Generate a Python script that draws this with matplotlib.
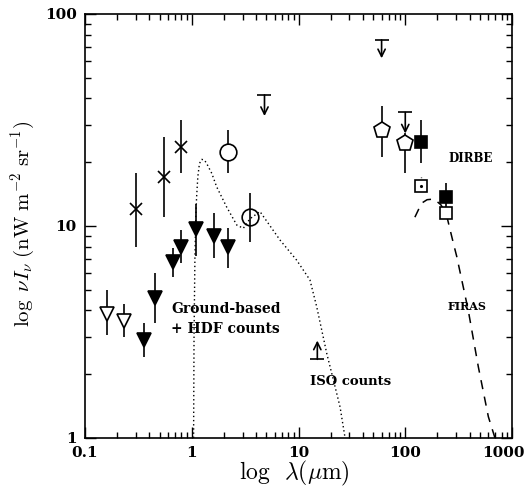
import matplotlib
matplotlib.use('Agg')
import matplotlib.pyplot as plt
import matplotlib.transforms as mtransforms
from matplotlib.ticker import FixedLocator, FixedFormatter, LogLocator, NullFormatter

plt.rcParams['mathtext.fontset'] = 'cm'

# ---------------- data ----------------
cross_x = [0.30, 0.55, 0.80]
cross_y = [12.0, 17.1, 23.6]
cross_lo = [7.98, 11.0, 17.8]
cross_hi = [17.8, 26.4, 31.6]

circ_x = [2.2, 3.5]
circ_y = [22.4, 11.0]
circ_lo = [17.7, 8.4]
circ_hi = [28.4, 14.3]

trif_x = [0.36, 0.45, 0.66, 0.80, 1.10, 1.60, 2.20]
trif_y = [2.90, 4.56, 6.79, 7.99, 9.65, 8.97, 7.93]
trif_lo = [2.42, 3.47, 5.77, 6.67, 7.22, 7.04, 6.31]
trif_hi = [3.50, 5.98, 7.85, 9.57, 12.7, 11.5, 9.75]

trio_x = [0.16, 0.23]
trio_y = [3.83, 3.56]
trio_lo = [3.06, 3.00]
trio_hi = [4.99, 4.27]

pent_x = [60, 100]
pent_y = [28.4, 24.5]
pent_lo = [21.2, 17.7]
pent_hi = [36.8, 27.3]

dirbe_f_x = [140, 240]
dirbe_f_y = [25.0, 13.7]
dirbe_f_lo = [19.8, 11.9]
dirbe_f_hi = [31.6, 15.9]
dirbe_f_dot_lo = [17.0, 11.9]

dirbe_o_x = [140, 240]
dirbe_o_y = [15.4, 11.5]

upper_x = [4.8, 60, 100]
upper_bar = [41.5, 75.4, 34.3]
upper_tip = [33.0, 61.8, 27.3]

lower_x = [15]
lower_bar = [2.35]
lower_tip = [2.88]

model_x = [1.04, 1.05, 1.07, 1.09, 1.11, 1.14, 1.18, 1.24, 1.31, 1.38, 1.54, 1.71,
           2.12, 2.64, 3.04, 3.5, 4.35, 6.7, 9.6, 12.8, 14.8, 18.4, 21.2, 24.5, 27.3]
model_y = [1.0, 3.0, 7.0, 11.0, 13.7, 17.1, 19.7, 20.6, 20.5, 19.7, 17.7, 15.3,
           12.3, 10.1, 9.75, 10.8, 11.7, 8.59, 6.9, 5.56, 4.16, 2.5, 1.88, 1.4, 1.0]

firas_x = [123, 142, 160, 186, 215, 241, 259, 282, 303, 389, 483, 600, 692]
firas_y = [11.0, 12.8, 13.3, 13.4, 12.6, 11.5, 9.9, 8.3, 7.2, 4.0, 2.17, 1.26, 1.0]

xticks = [0.1, 1, 10, 100, 1000]
xtick_labels = ['0.1', '1', '10', '100', '1000']
yticks = [1, 10, 100]
ytick_labels = ['1', '10', '100']

# ---------------- figure ----------------
fig = plt.figure(figsize=(5.3, 4.95), dpi=100)
ax = fig.add_axes([0.1604, 0.1152, 0.8057, 0.8566])
ax.set_xscale('log')
ax.set_yscale('log')
ax.set_xlim(0.1, 1000)
ax.set_ylim(1, 100)

lw = 1.2
k = 'black'

# model curves
ax.plot(model_x, model_y, linestyle=(0, (1, 2)), color=k, lw=1.0)
ax.plot(firas_x, firas_y, linestyle=(0, (6, 5)), color=k, lw=1.1)

# error bars
for xs, lo, hi in [(cross_x, cross_lo, cross_hi), (circ_x, circ_lo, circ_hi),
                   (trif_x, trif_lo, trif_hi), (trio_x, trio_lo, trio_hi),
                   (pent_x, pent_lo, pent_hi), (dirbe_f_x, dirbe_f_lo, dirbe_f_hi)]:
    ax.vlines(xs, lo, hi, color=k, lw=lw, zorder=2)

# dotted connection between filled and open DIRBE squares
ax.vlines(dirbe_f_x[:1], dirbe_o_y[:1], dirbe_f_dot_lo[:1], color=k, lw=1.0,
          linestyle=(0, (1, 2)), zorder=2)

# markers
ax.plot(cross_x, cross_y, 'x', color=k, ms=8, mew=lw, zorder=3)
ax.plot(circ_x[:1], circ_y[:1], 'o', mfc='white', mec=k, ms=12, mew=lw, zorder=3)
ax.plot(circ_x[1:], circ_y[1:], 'o', mfc='none', mec=k, ms=12, mew=lw, zorder=3)
ax.plot(trif_x, trif_y, 'v', color=k, ms=10, mew=lw, zorder=3)
ax.plot(trio_x, trio_y, 'v', mfc='white', mec=k, ms=10, mew=lw, zorder=3)
ax.plot(pent_x, pent_y, 'p', mfc='white', mec=k, ms=12, mew=lw, zorder=3)
ax.plot(dirbe_f_x, dirbe_f_y, 's', color=k, ms=8, mew=lw, zorder=3)
ax.plot(dirbe_o_x, dirbe_o_y, 's', mfc='white', mec=k, ms=8, mew=lw, zorder=3)
ax.plot(dirbe_o_x[:1], dirbe_o_y[:1], '.', color=k, ms=2.5, zorder=4)

# upper limits
ax.plot(upper_x, upper_bar, '_', color=k, ms=10, mew=lw, zorder=3)
for x, yb, yt in zip(upper_x, upper_bar, upper_tip):
    ax.annotate('', xy=(x, yt), xytext=(x, yb),
                arrowprops=dict(arrowstyle='->', color=k, lw=lw,
                                shrinkA=0, shrinkB=0, mutation_scale=13))
# lower limits
ax.plot(lower_x, lower_bar, '_', color=k, ms=10, mew=lw, zorder=3)
for x, yb, yt in zip(lower_x, lower_bar, lower_tip):
    ax.annotate('', xy=(x, yt), xytext=(x, yb),
                arrowprops=dict(arrowstyle='->', color=k, lw=lw,
                                shrinkA=0, shrinkB=0, mutation_scale=13))

# labels inside
tfont = dict(family='DejaVu Serif', weight='bold')
ax.text(0.64, 4.06, 'Ground-based', fontsize=10, va='center', ha='left', **tfont)
ax.text(0.64, 3.27, '+ HDF counts', fontsize=10, va='center', ha='left', **tfont)
ax.text(12.8, 1.84, 'ISO counts', fontsize=9.5, va='center', ha='left', **tfont)
ax.text(251, 4.15, 'FIRAS', fontsize=8, va='center', ha='left', **tfont)
ax.text(256, 20.9, 'DIRBE', fontsize=8.5, va='center', ha='left', **tfont)

# axes styling
ax.xaxis.set_major_locator(FixedLocator(xticks))
ax.xaxis.set_major_formatter(FixedFormatter(xtick_labels))
ax.yaxis.set_major_locator(FixedLocator(yticks))
ax.yaxis.set_major_formatter(FixedFormatter(ytick_labels))
ax.xaxis.set_minor_locator(LogLocator(base=10, subs=range(2, 10)))
ax.yaxis.set_minor_locator(LogLocator(base=10, subs=range(2, 10)))
ax.xaxis.set_minor_formatter(NullFormatter())
ax.yaxis.set_minor_formatter(NullFormatter())
ax.tick_params(which='both', direction='in', top=True, right=True, width=1.0)
ax.tick_params(which='major', length=8, pad=6)
ax.tick_params(which='minor', length=4)
for lab in ax.get_xticklabels() + ax.get_yticklabels():
    lab.set_family('DejaVu Serif')
    lab.set_weight('bold')
    lab.set_fontsize(11)
for s in ax.spines.values():
    s.set_linewidth(1.2)

# keep the last x tick label inside the canvas
last = ax.xaxis.get_major_ticks()[-1].label1
last.set_transform(last.get_transform() +
                   mtransforms.ScaledTranslation(-6 / 72, 0, fig.dpi_scale_trans))

ax.set_xlabel(r'$\log\;\;\lambda(\mu{\rm m})$', fontsize=17)
ax.set_ylabel(r'$\log\ \nu I_\nu\ ({\rm nW\ m^{-2}\ sr^{-1}})$', fontsize=15)
ax.xaxis.set_label_coords(0.49, -0.05)
ax.yaxis.set_label_coords(-0.112, 0.505)

fig.savefig('out.png', dpi=100)
